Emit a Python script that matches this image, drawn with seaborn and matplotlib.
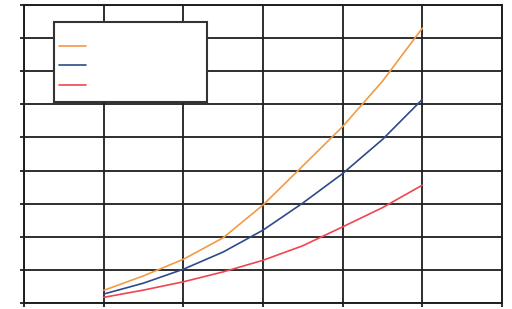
import matplotlib
matplotlib.use("Agg")
import matplotlib.pyplot as plt
from matplotlib.patches import Rectangle
import seaborn as sns
import pandas as pd

x_vals = [1, 1.5, 2, 2.5, 3, 3.5, 4, 4.5, 5]
orange_vals = [0.38, 0.82, 1.32, 1.97, 2.96, 4.14, 5.33, 6.70, 8.30]
blue_vals = [0.27, 0.60, 1.02, 1.54, 2.20, 3.02, 3.91, 4.94, 6.15]
red_vals = [0.17, 0.39, 0.64, 0.94, 1.29, 1.73, 2.30, 2.88, 3.56]
series_names = [" ", "  ", "   "]
colors = ["#F39A45", "#2D4B8A", "#F0454F"]

rows = []
for name, vals in zip(series_names, [orange_vals, blue_vals, red_vals]):
    for xv, yv in zip(x_vals, vals):
        rows.append({"x": xv, "y": yv, "s": name})
df = pd.DataFrame(rows)

sns.set_style("white")
fig = plt.figure(figsize=(5.12, 3.09), dpi=100)
ax = fig.add_axes([24/512, 6/309, 478/512, 298/309])

sns.lineplot(data=df, x="x", y="y", hue="s", palette=dict(zip(series_names, colors)),
             ax=ax, linewidth=1.2, legend=True)

ax.set_xlim(0, 6)
ax.set_ylim(0, 9)
ax.set_xticks(range(0, 7))
ax.set_yticks(range(0, 10))
ax.set_xticklabels([])
ax.set_yticklabels([])
ax.set_xlabel("")
ax.set_ylabel("")
ax.grid(True, color="#1e1e1e", linewidth=1.3)
ax.set_axisbelow(True)
for sp in ax.spines.values():
    sp.set_color("#1e1e1e")
    sp.set_linewidth(1.4)
ax.tick_params(axis="both", direction="out", length=3, width=1.3, color="#1e1e1e",
               left=True, bottom=True)

box = Rectangle((0.0628, 0.6745), 0.3828 - 0.0628, 0.943 - 0.6745, transform=ax.transAxes,
                facecolor="white", edgecolor="#333333", linewidth=1.5, zorder=4)
ax.add_patch(box)

leg = ax.legend(loc="upper left", bbox_to_anchor=(0.0732, 0.876),
                borderaxespad=0, fontsize=8, handlelength=2.43,
                labelspacing=0.83, borderpad=0, frameon=False)
leg.set_zorder(5)

fig.savefig("out.png", dpi=100)
